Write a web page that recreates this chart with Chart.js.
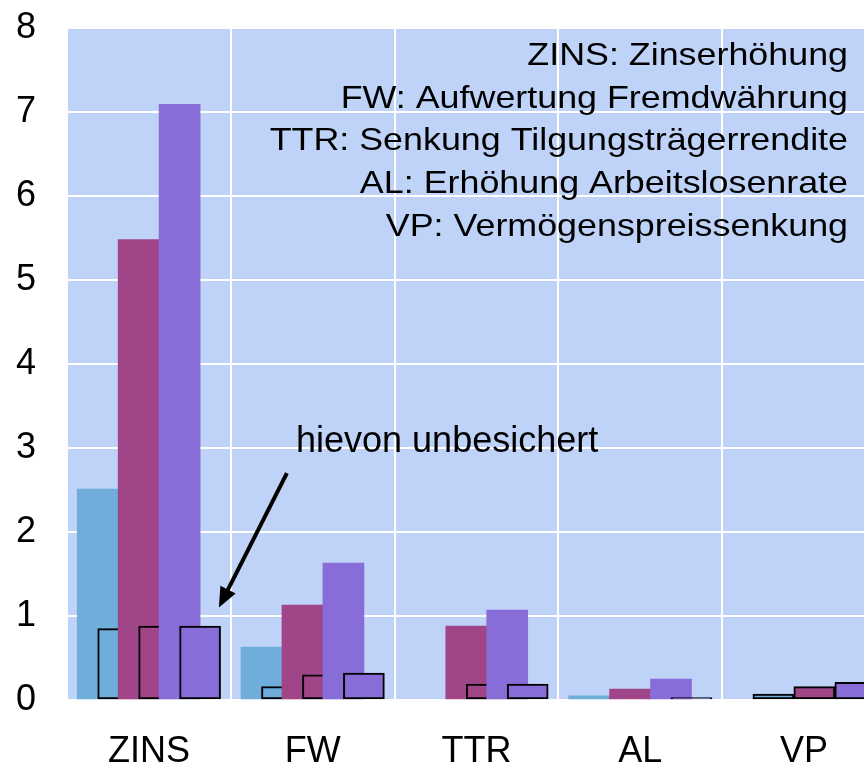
<!DOCTYPE html>
<html lang="de">
<head>
<meta charset="utf-8">
<title>Zinsrisiko</title>
<script src="https://cdn.jsdelivr.net/npm/chart.js@4"></script>
<style>
    html, body { margin: 0; padding: 0; background: #ffffff; overflow: hidden; }
    #wrap { width: 886px; height: 767px; }
</style>
</head>
<body>
<div id="wrap"><canvas id="riskChart" width="886" height="767"></canvas></div>
<script>
// Szenarien (Kategorien)
const categories = ['ZINS', 'FW', 'TTR', 'AL', 'VP'];

// Gesamtwerte je Reihe
const seriesA = [2.51, 0.63, null, 0.05, null];
const seriesB = [5.48, 1.13, 0.88, 0.13, null];
const seriesC = [7.09, 1.63, 1.07, 0.25, null];

// hievon unbesichert
const unsecuredA = [0.85, 0.16, null, null, 0.07];
const unsecuredB = [0.88, 0.30, 0.19, null, 0.16];
const unsecuredC = [0.88, 0.32, 0.19, 0.03, 0.21];

const yTicks = [0, 1, 2, 3, 4, 5, 6, 7, 8];

const legendLines = [
    'ZINS: Zinserhöhung',
    'FW: Aufwertung Fremdwährung',
    'TTR: Senkung Tilgungsträgerrendite',
    'AL: Erhöhung Arbeitslosenrate',
    'VP: Vermögenspreissenkung'
];
const noteText = 'hievon unbesichert';

const colors = { a: '#6FADDA', b: '#A14589', c: '#886CD8' };
const FONT = "'Liberation Sans', Arial, sans-serif";

// every bar sits on its own hidden linear axis, shifted by a half bar
const SLOT = 0.125;
const BAR = 41;

function toPoints(values) {
    return values.map((v, i) => ({ x: i, y: v }));
}

const barSets = [
    { values: seriesA, color: colors.a, outline: false },
    { values: unsecuredA, color: colors.a, outline: true },
    { values: seriesB, color: colors.b, outline: false },
    { values: unsecuredB, color: colors.b, outline: true },
    { values: seriesC, color: colors.c, outline: false },
    { values: unsecuredC, color: colors.c, outline: true }
];

const datasets = barSets.map((set, k) => ({
    data: toPoints(set.values),
    xAxisID: 'x' + (k + 1),
    backgroundColor: set.color,
    borderColor: '#000000',
    borderWidth: set.outline ? 2 : 0,
    borderSkipped: false,
    barThickness: BAR,
    grouped: false,
    order: barSets.length - k
}));

const scales = {
    x: {
        type: 'category',
        labels: categories,
        offset: true,
        position: 'bottom',
        grid: { offset: true, color: '#ffffff', lineWidth: 2, drawTicks: false },
        border: { display: false },
        ticks: { color: '#000000', font: { family: FONT, size: 36 }, padding: 30 },
        afterFit: (scale) => { scale.height = 67; }
    },
    y: {
        min: 0,
        max: 8,
        afterBuildTicks: (scale) => { scale.ticks = yTicks.map(v => ({ value: v })); },
        grid: { color: '#ffffff', lineWidth: 2, drawTicks: false },
        border: { display: false },
        ticks: { color: '#000000', font: { family: FONT, size: 36 }, padding: 31 },
        afterFit: (scale) => {
            scale.width = 67;
            scale.paddingTop = 28;
            scale.paddingBottom = 0;
        }
    }
};

barSets.forEach((set, k) => {
    const shift = (k - 2.5) * SLOT;
    scales['x' + (k + 1)] = {
        type: 'linear',
        axis: 'x',
        position: 'bottom',
        display: false,
        offset: false,
        bounds: 'data',
        min: -0.5 - shift,
        max: categories.length - 0.5 - shift
    };
});

const plotBackground = {
    id: 'plotBackground',
    beforeDraw(chart) {
        const { ctx, chartArea } = chart;
        ctx.save();
        ctx.fillStyle = '#BFD3F8';
        ctx.fillRect(chartArea.left, chartArea.top, chartArea.right - chartArea.left, chartArea.bottom - chartArea.top);
        ctx.restore();
    }
};

const annotations = {
    id: 'annotations',
    afterDatasetsDraw(chart) {
        const { ctx } = chart;
        const xs = chart.scales.x;
        const ys = chart.scales.y;
        ctx.save();
        ctx.fillStyle = '#000000';

        // Legende oben rechts (etwas breit laufende Schrift)
        ctx.font = '32px ' + FONT;
        ctx.textAlign = 'right';
        ctx.textBaseline = 'middle';
        legendLines.forEach((line, i) => {
            ctx.save();
            ctx.translate(848, 56 + i * 42.8);
            ctx.scale(1.12, 1);
            ctx.fillText(line, 0, 0);
            ctx.restore();
        });

        // Hinweis mit Pfeil
        ctx.font = '36px ' + FONT;
        ctx.textAlign = 'left';
        ctx.fillText(noteText, 296, ys.getPixelForValue(3.07));

        const x0 = xs.getPixelForValue(0) + 138;
        const y0 = ys.getPixelForValue(2.7);
        const x1 = xs.getPixelForValue(0) + 70;
        const y1 = ys.getPixelForValue(1.1);
        const ang = Math.atan2(y1 - y0, x1 - x0);
        const head = 22;
        ctx.strokeStyle = '#000000';
        ctx.lineWidth = 4;
        ctx.beginPath();
        ctx.moveTo(x0, y0);
        ctx.lineTo(x1 - Math.cos(ang) * head * 0.8, y1 - Math.sin(ang) * head * 0.8);
        ctx.stroke();
        ctx.beginPath();
        ctx.moveTo(x1, y1);
        ctx.lineTo(x1 - head * Math.cos(ang - 0.4), y1 - head * Math.sin(ang - 0.4));
        ctx.lineTo(x1 - head * Math.cos(ang + 0.4), y1 - head * Math.sin(ang + 0.4));
        ctx.closePath();
        ctx.fill();
        ctx.restore();
    }
};

new Chart(document.getElementById('riskChart'), {
    type: 'bar',
    data: { labels: categories, datasets: datasets },
    options: {
        responsive: false,
        animation: false,
        layout: { padding: 0 },
        scales: scales,
        plugins: {
            legend: { display: false },
            tooltip: { enabled: false }
        }
    },
    plugins: [plotBackground, annotations]
});
</script>
</body>
</html>
